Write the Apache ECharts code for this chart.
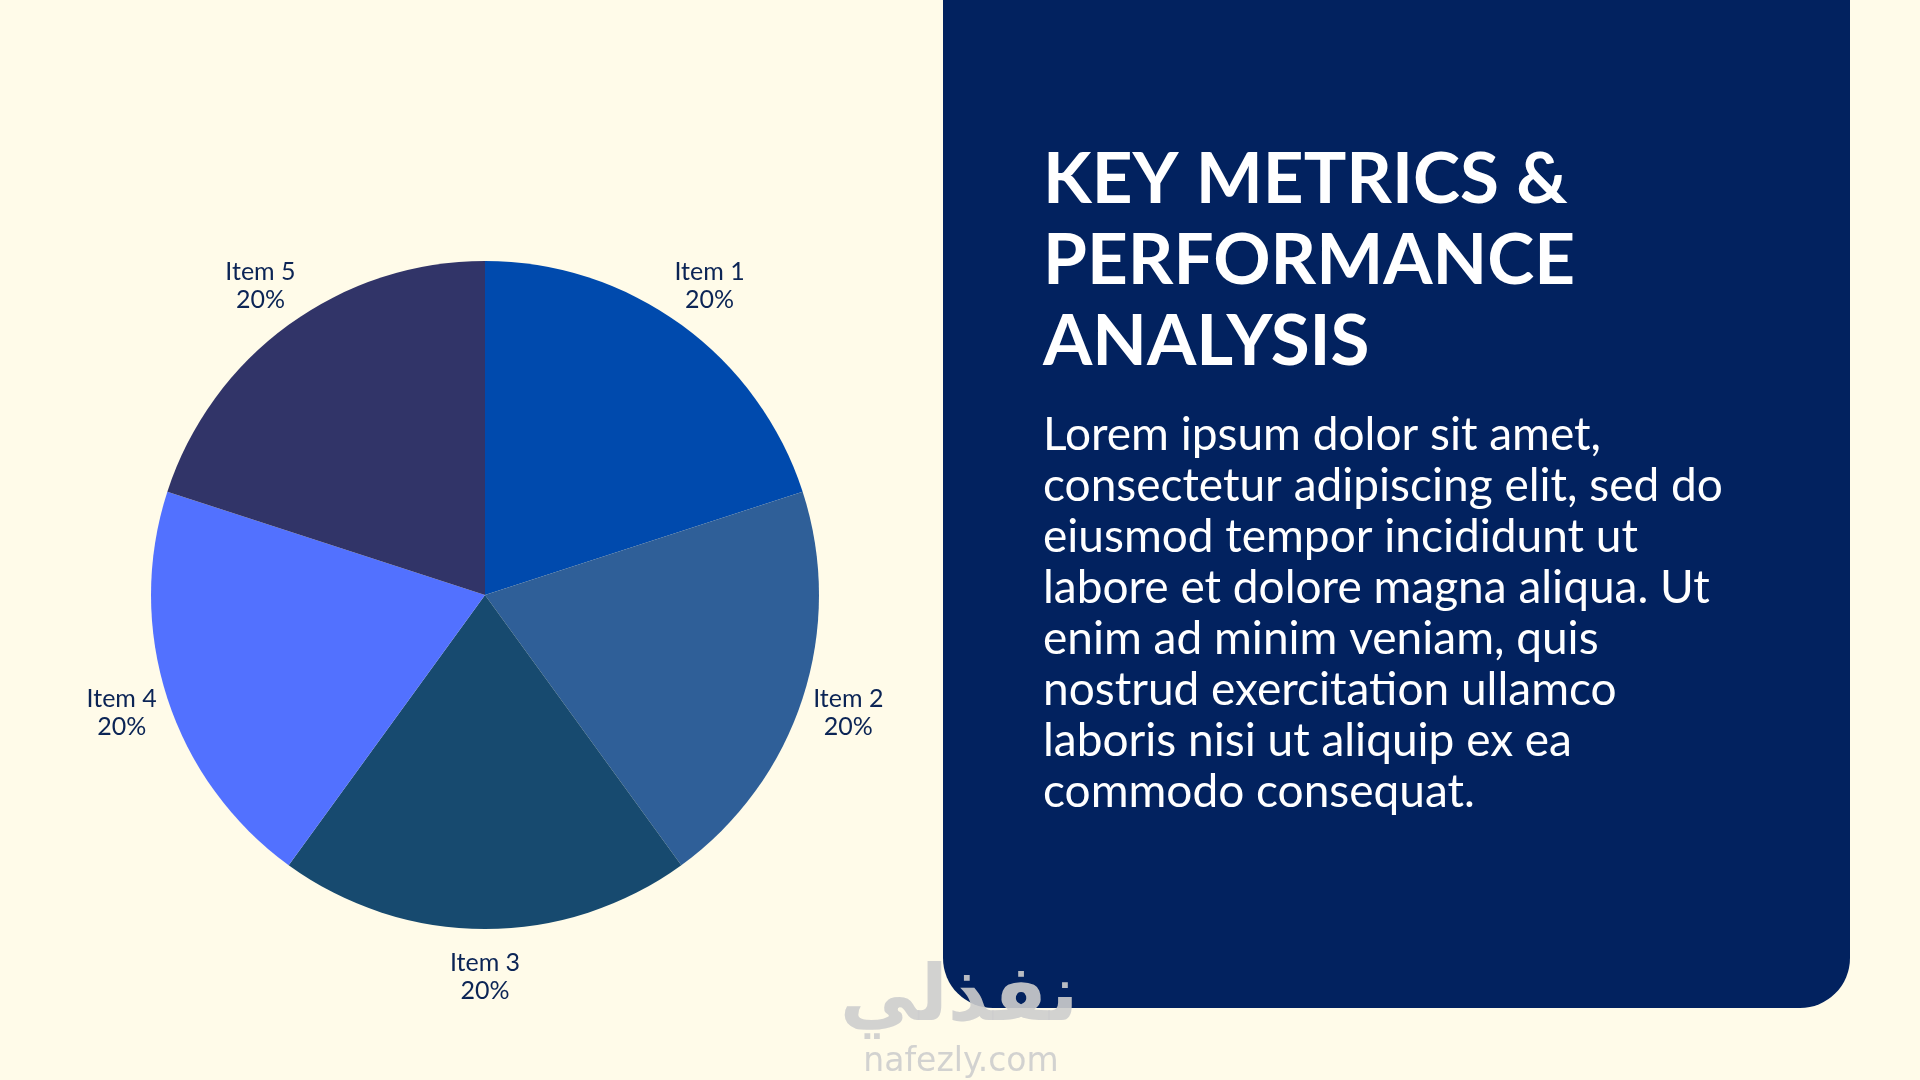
<!DOCTYPE html>
<html>
<head>
<meta charset="utf-8">
<title>Key Metrics & Performance Analysis</title>
<script src="https://cdn.jsdelivr.net/npm/echarts@6/dist/echarts.min.js"></script>
<style>
    html, body { margin: 0; padding: 0; background: #fffbe9; }
    #container { width: 1920px; height: 1080px; }
</style>
</head>
<body>
<div id="container"></div>
<script>
// pie data
var categories = ['Item 1', 'Item 2', 'Item 3', 'Item 4', 'Item 5'];
var values = [20, 20, 20, 20, 20];

// slide texts
var titleLines = ['KEY METRICS &', 'PERFORMANCE', 'ANALYSIS'];
var bodyLines = [
    'Lorem ipsum dolor sit amet,',
    'consectetur adipiscing elit, sed do',
    'eiusmod tempor incididunt ut',
    'labore et dolore magna aliqua. Ut',
    'enim ad minim veniam, quis',
    'nostrud exercitation ullamco',
    'laboris nisi ut aliquip ex ea',
    'commodo consequat.'
];

var sliceColors = ['#004aad', '#2f5f98', '#174a6f', '#5271ff', '#313468'];

var pieData = [];
for (var i = 0; i < categories.length; i++) {
    pieData.push({ name: categories[i], value: values[i] });
}

var option = {
    backgroundColor: '#fffbe9',
    animation: false,
    graphic: [
        {
            // navy panel on the right, top corners run off the page
            type: 'rect',
            z: 0,
            shape: { x: 943, y: -80, width: 907, height: 1088, r: 50 },
            style: { fill: '#02225f' }
        },
        {
            type: 'text',
            z: 5,
            x: 1043,
            y: 140,
            style: {
                text: titleLines.join('\n'),
                fill: '#ffffff',
                font: 'bold 71px Lato',
                lineHeight: 81
            }
        },
        {
            type: 'text',
            z: 5,
            x: 1043,
            y: 410,
            style: {
                text: bodyLines.join('\n'),
                fill: '#ffffff',
                font: '46px Lato',
                lineHeight: 51
            }
        },
        {
            // watermark
            type: 'text',
            z: 10,
            x: 959,
            y: 1000,
            style: {
                text: 'نفذلي',
                fill: 'rgba(205,205,205,0.9)',
                font: 'bold 78px "DejaVu Sans"',
                align: 'center',
                verticalAlign: 'middle'
            }
        },
        {
            type: 'text',
            z: 10,
            x: 961,
            y: 1062,
            style: {
                text: 'nafezly.com',
                fill: 'rgba(205,205,205,0.9)',
                font: '33px "DejaVu Sans"',
                align: 'center',
                verticalAlign: 'middle'
            }
        }
    ],
    series: [
        {
            type: 'pie',
            center: [485, 595],
            radius: [0, 334],
            startAngle: 90,
            clockwise: true,
            silent: true,
            color: sliceColors,
            itemStyle: { borderWidth: 0 },
            label: { show: false },
            labelLine: { show: false },
            data: pieData
        },
        {
            // transparent ring that only carries the labels around the pie
            type: 'pie',
            center: [485, 595],
            radius: [358, 400],
            startAngle: 90,
            clockwise: true,
            silent: true,
            itemStyle: { color: 'transparent', borderWidth: 0 },
            label: {
                show: true,
                position: 'inside',
                formatter: '{b}\n{d}%',
                color: '#0b2455',
                fontFamily: 'Lato',
                fontSize: 25,
                lineHeight: 28,
                align: 'center'
            },
            labelLine: { show: false },
            data: pieData
        }
    ]
};

var myChart = echarts.init(document.getElementById('container'));
myChart.setOption(option);
</script>
</body>
</html>
